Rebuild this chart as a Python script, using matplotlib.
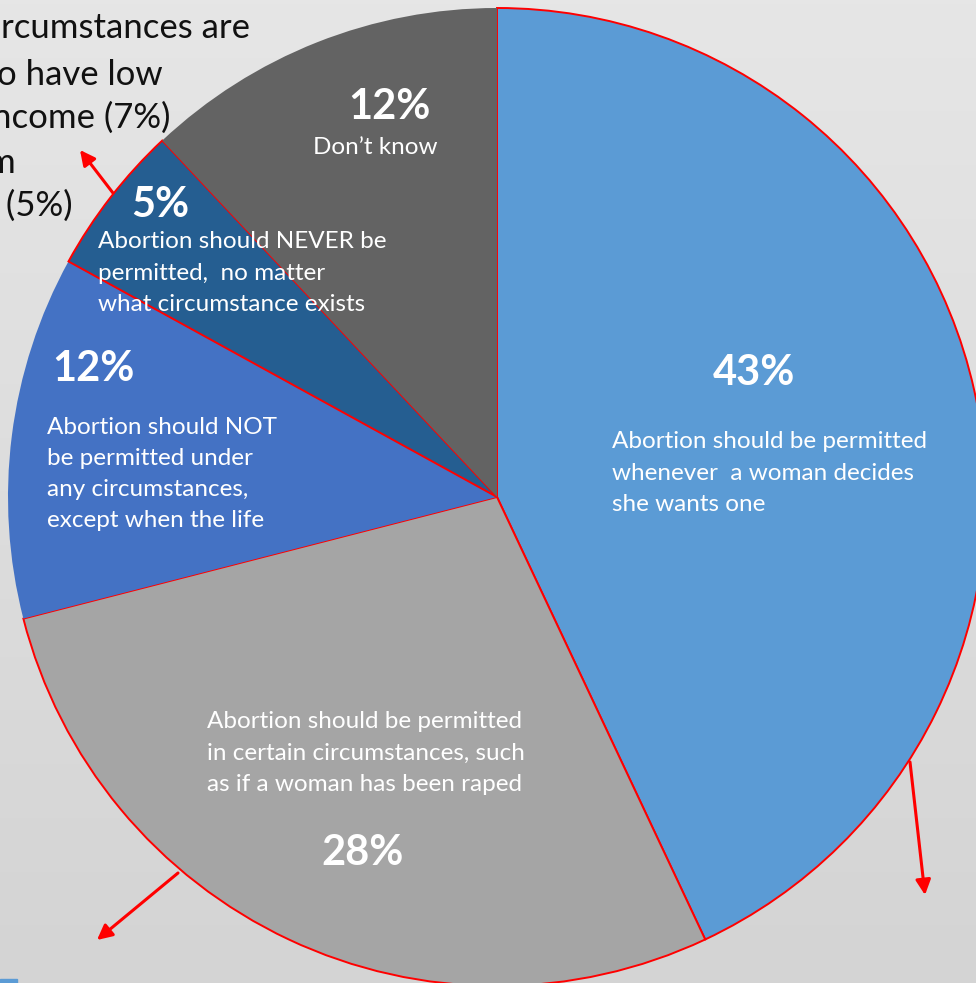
import numpy as np
import matplotlib
matplotlib.use("Agg")
import matplotlib.pyplot as plt
from matplotlib.colors import LinearSegmentedColormap

plt.rcParams['font.family'] = ['Lato', 'DejaVu Sans']

# data
shares = [43, 28, 12, 5, 12]
pct_labels = ["43%", "28%", "12%", "5%", "12%"]
descriptions = [
    "Abortion should be permitted\nwhenever  a woman decides\nshe wants one",
    "Abortion should be permitted\nin certain circumstances, such\nas if a woman has been raped",
    "Abortion should NOT\nbe permitted under\nany circumstances,\nexcept when the life",
    "Abortion should NEVER be\npermitted,  no matter\nwhat circumstance exists",
    "Don\u2019t know",
]
colors = ["#5B9BD5", "#A5A5A5", "#4472C4", "#255E91", "#636363"]
outlined = [True, True, False, True, False]
side_lines = ["circumstances are", "o have low", "ncome (7%)", "m", " (5%)"]

W, H = 976, 983
fig = plt.figure(figsize=(W / 100, H / 100), dpi=100)
ax = fig.add_axes([0, 0, 1, 1])

# background gradient
grad = np.linspace(0, 1, 256).reshape(-1, 1)
bg = LinearSegmentedColormap.from_list("bg", ["#E6E6E6", "#D4D4D4"])
ax.imshow(grad, extent=(0, W, H, 0), cmap=bg, aspect='auto', zorder=0)

# pie in pixel coords (y down), clockwise from top
cx, cy, r = 497, 497, 489
wedges, _ = ax.pie(shares, colors=colors, startangle=-90, counterclock=True,
                   center=(cx, cy), radius=r, frame=True,
                   wedgeprops=dict(linewidth=0))
for w, o in zip(wedges, outlined):
    w.set_zorder(2)
    if o:
        w.set_edgecolor("red")
        w.set_linewidth(1.4)

ax.set_xlim(0, W)
ax.set_ylim(H, 0)
ax.set_aspect('equal')
ax.axis('off')

# percentage labels
pct_pos = [(754, 373), (363, 853), (93, 369), (160, 205), (389, 107)]
for (x, y), t in zip(pct_pos, pct_labels):
    ax.text(x, y, t, color="white", fontsize=30, fontweight="bold",
            ha="center", va="center", zorder=5)

# description labels (block centres)
desc_pos = [(612, 473, "left"), (207, 753, "left"), (47, 474, "left"),
            (98, 273, "left"), (375, 148, "center")]
for (x, y, ha), t in zip(desc_pos, descriptions):
    ax.text(x, y, t, color="white", fontsize=17.5, ha=ha, va="center",
            linespacing=1.6, zorder=5)

# cut-off side text at top left
side_x = [250, 163, 170, 15, 73]
side_y = [28, 75, 118, 163, 206]
for x, y, t in zip(side_x, side_y, side_lines):
    ax.text(x, y, t, color="#111111", fontsize=25, ha="right", va="center",
            zorder=5)

# red arrows
arrows = [((113, 193), (80, 150)), ((910, 762), (925, 895)), ((178, 873), (97, 940))]
for start, end in arrows:
    ax.annotate("", xy=end, xytext=start, zorder=6,
                arrowprops=dict(arrowstyle="-|>,head_length=0.9,head_width=0.45",
                                color="red", lw=2.2, shrinkA=0, shrinkB=0))

# small blue mark at bottom left
ax.add_patch(plt.Rectangle((0, 979), 17, 4, color="#5B9BD5", zorder=6))

fig.savefig("out.png", dpi=100)
